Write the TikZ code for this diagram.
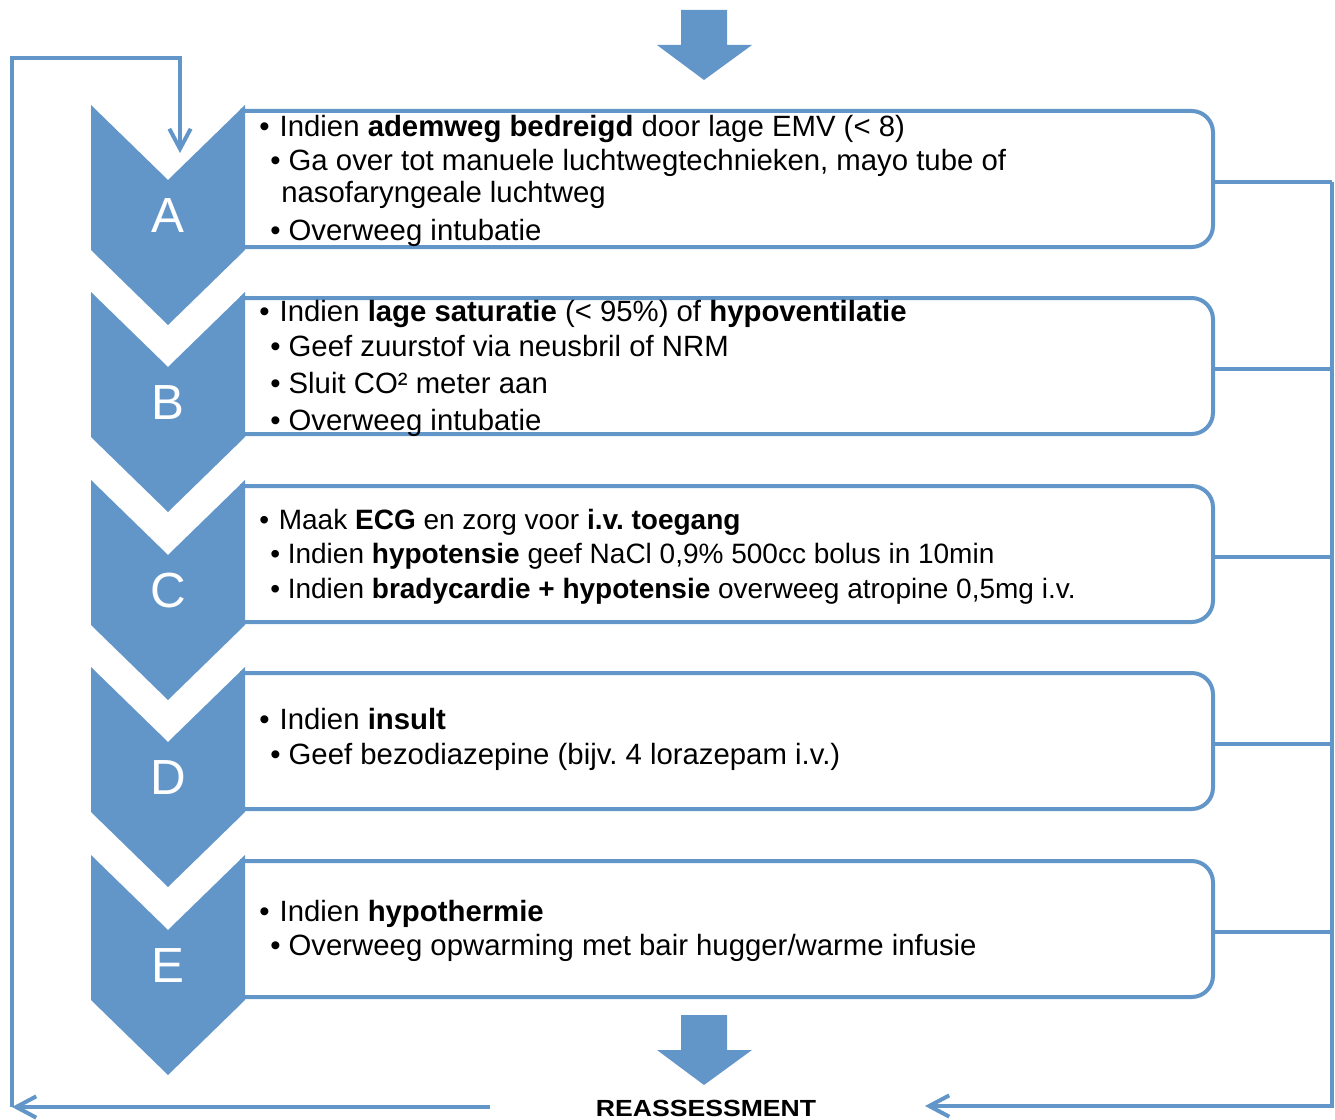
\documentclass[tikz,border=0pt]{standalone}
\usepackage{fontspec}
\setmainfont{Liberation Sans}
\usetikzlibrary{arrows.meta}
\frenchspacing
\definecolor{stepBlue}{RGB}{98,150,201}
\tikzstyle{flowchart} = [x = 0.75pt, y = -0.75pt]
\tikzstyle{chevronStyle} = [fill=stepBlue]
\tikzstyle{boxStyle} = [draw=stepBlue, line width=3pt, fill=white, rounded corners=16pt]
\tikzstyle{letterText} = [text=white, inner sep=0, font=\fontsize{37}{40}\selectfont]
\tikzstyle{lineText} = [anchor=base west, inner sep=0, font=\fontsize{22}{26}\selectfont]
\tikzstyle{smallLineText} = [lineText, font=\fontsize{21}{25}\selectfont]
\tikzstyle{linkLine} = [draw=stepBlue, line width=3pt]
\tikzstyle{linkArrow} = [linkLine, -{Straight Barb[length=15pt, width=16pt]}]
\tikzstyle{blockArrowStyle} = [fill=stepBlue]
\newcommand{\topBullet}{•\ \kern1.5pt}
\newcommand{\stepRow}[3]{
  \draw [boxStyle] (240, #3 + 6) -- (1213, #3 + 6) -- (1213, #3 + 142) -- (240, #3 + 142);
  \coordinate (exit#1) at (1213, #3 + 77);
  \fill [chevronStyle] (91, #3) -- (168, #3 + 75) -- (245, #3) -- (245, #3 + 145) -- (168, #3 + 220) -- (91, #3 + 145) -- cycle;
  \node [letterText] (letter#1) at (168, #3 + 111) {#2};
}
\newcommand{\bigDownArrow}[2]{\fill [blockArrowStyle] (681, #2) -- (727, #2) -- (727, #2 + 35) -- (752, #2 + 35) -- (704, #2 + 70) -- (657, #2 + 35) -- (681, #2 + 35) -- cycle;
  \coordinate (#1) at (704, #2 + 70);}

\begin{document}
\begin{tikzpicture}[flowchart]
  \useasboundingbox (0,0) rectangle (1335,1120);
  \bigDownArrow{topArrow}{10}
  \stepRow{A}{A}{105}
  \stepRow{B}{B}{292}
  \stepRow{C}{C}{480}
  \stepRow{D}{D}{667}
  \stepRow{E}{E}{855}
  \bigDownArrow{bottomArrow}{1015}

  % A
  \node [lineText] (lineA1) at (259,137) {\topBullet Indien \textbf{ademweg bedreigd} door lage EMV (< 8)};
  \node [lineText] (lineA2) at (270,171) {• Ga over tot manuele luchtwegtechnieken, mayo tube of};
  \node [lineText] (lineA3) at (281,203) {nasofaryngeale luchtweg};
  \node [lineText] (lineA4) at (270,240) {• Overweeg intubatie};
  % B
  \node [lineText] (lineB1) at (259,321) {\topBullet Indien \textbf{lage saturatie} (< 95\%) of \textbf{hypoventilatie}};
  \node [lineText] (lineB2) at (270,356) {• Geef zuurstof via neusbril of NRM};
  \node [lineText] (lineB3) at (270,393) {• Sluit CO² meter aan};
  \node [lineText] (lineB4) at (270,430) {• Overweeg intubatie};
  % C
  \node [smallLineText] (lineC1) at (259,529) {\topBullet Maak \textbf{ECG} en zorg voor \textbf{i.v. toegang}};
  \node [smallLineText] (lineC2) at (270,563) {• Indien \textbf{hypotensie} geef NaCl 0,9\% 500cc bolus in 10min};
  \node [smallLineText] (lineC3) at (270,598) {• Indien \textbf{bradycardie + hypotensie} overweeg atropine 0,5mg i.v.};
  % D
  \node [lineText] (lineD1) at (259,729) {\topBullet Indien \textbf{insult}};
  \node [lineText] (lineD2) at (270,764) {• Geef bezodiazepine (bijv. 4 lorazepam i.v.)};
  % E
  \node [lineText] (lineE1) at (259,921) {\topBullet Indien \textbf{hypothermie}};
  \node [lineText] (lineE2) at (270,955) {• Overweeg opwarming met bair hugger/warme infusie};

  \node [anchor=base, inner sep=0, xscale=1.14, font=\bfseries\fontsize{17.5}{20}\selectfont] (reassess) at (706,1116) {REASSESSMENT};

  % feedback lines
  \coordinate (railBottom) at (1332,1106);
  \coordinate (reassessRight) at (925,1106);
  \coordinate (leftStart) at (490,1107);
  \coordinate (leftCorner) at (12,1107);
  \coordinate (leftTop) at (12,58);
  \coordinate (entryA) at (180,153);
  \foreach \row in {A,B,C,D,E}
    \draw [linkLine] (exit\row) -- (exit\row -| railBottom);
  \draw [linkArrow] (exitA -| railBottom) -- (railBottom) -- (reassessRight);
  \draw [linkArrow] (leftStart) -- (leftCorner);
  \draw [linkArrow] (leftCorner) -- (leftTop) -| (entryA);
\end{tikzpicture}
\end{document}
